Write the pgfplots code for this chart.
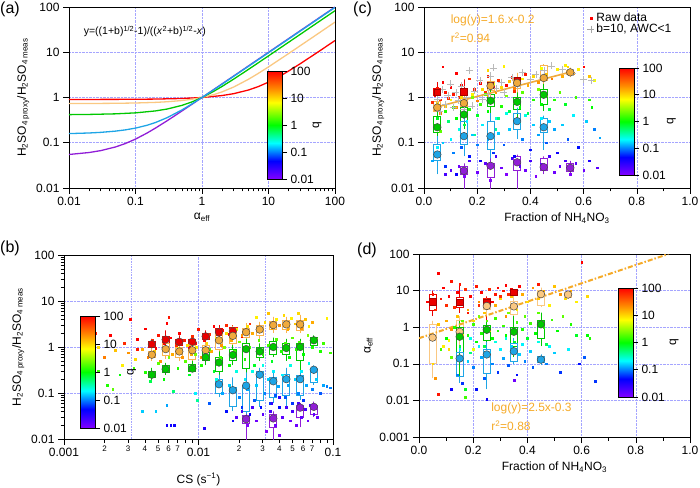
\documentclass[border=0pt]{standalone}
\usepackage{fontspec}
\setmainfont{Liberation Sans}
\usepackage{pgfplots}
\pgfplotsset{compat=1.18}
\usepackage{pgfplotstable}

\definecolor{cRed}{RGB}{235,0,0}
\definecolor{cOrg}{RGB}{240,170,60}
\definecolor{cOrgBox}{RGB}{250,180,80}
\definecolor{cPeach}{RGB}{250,200,130}
\definecolor{cGrn}{RGB}{0,200,0}
\definecolor{cBlu}{RGB}{30,165,230}
\definecolor{cPur}{RGB}{145,30,215}
\definecolor{cGrid}{RGB}{165,165,255}
\definecolor{cTxt}{RGB}{245,170,40}
\definecolor{cEdge}{RGB}{70,70,70}

\newcommand\tf{\fontsize{12}{14}\selectfont}
% box: x, xleft, xright, whisker-low, q1, q3, whisker-high
\newcommand\bx[7]{(#1,#4)(#1,#5)(#2,#5)(#2,#6)(#1,#6)(#1,#7)(#1,#6)(#3,#6)(#3,#5)(#1,#5)(#1,nan)}

\pgfplotsset{
  colormap={igor}{rgb255(0cm)=(130,0,255) rgb255(2cm)=(0,0,255) rgb255(4cm)=(0,255,255) rgb255(6cm)=(0,255,0) rgb255(8.5cm)=(255,255,0) rgb255(10cm)=(255,140,0) rgb255(12cm)=(255,0,0)},
  igor/.style={
    scale only axis,
    tick pos=left, tick align=outside,
    major tick length=6pt, minor tick length=3.5pt,
    tick style={black, line width=0.6pt},
    axis line style={line width=0.8pt},
    grid=major, major grid style={cGrid, densely dotted, line width=0.6pt},
    tick label style={font=\tf},
    label style={font=\tf},
    /pgf/number format/assume math mode=true,
    unbounded coords=jump,
    colormap name=igor,
    point meta min=-2, point meta max=2,
  },
  cb/.style={
    scale only axis, width=15pt, anchor=south west,
    xmin=0, xmax=1, ymin=-2, ymax=2,
    xtick=\empty, ytick={-2,-1,0,1,2}, yticklabels={0.01,0.1,1,10,100},
    ytick pos=right, yticklabel pos=right,
    tick align=outside, major tick length=5pt,
    tick style={black, line width=0.6pt},
    axis line style={line width=0.8pt},
    tick label style={font=\tf},
    /pgf/number format/assume math mode=true,
    colormap name=igor, point meta min=-2, point meta max=2,
    axis on top, clip=false,
  },
  raw/.style={scatter, only marks, mark=square*, mark size=0.85pt,
    scatter/use mapped color={draw=mapped color, fill=mapped color}, point meta=explicit},
  boxs/.style={no marks, line width=0.8pt},
  med/.style={only marks, mark=*, mark size=3.8pt, mark options={fill=#1, draw=cEdge, line width=0.5pt}},
  meds/.style={only marks, mark=square*, mark size=3.2pt, mark options={fill=#1, draw=#1!70!black, line width=0.5pt}},
}

% ---------------- raw data (c) ----------------
\pgfplotstableread{
x y c
0.04 1.1 2
0.05 1.6 1.9
0.06 0.9 1.8
0.07 2.2 2
0.08 1.3 1.9
0.09 0.95 1.8
0.10 1.7 2
0.11 1.2 1.9
0.12 3.5 2
0.13 1.0 1.8
0.14 1.9 2
0.16 1.4 1.9
0.17 2.6 1.8
0.18 1.1 2
0.19 1.5 1.9
0.21 2.1 2
0.23 1.3 1.8
0.24 3.0 1.9
0.26 1.7 2
0.28 2.4 1.8
0.31 1.9 2
0.33 2.8 1.9
0.34 1.4 1.8
0.36 2.2 2
0.38 3.3 1.9
0.07 4.8 2
0.60 4.8 2
0.03 0.8 1.8
0.04 0.55 1.2
0.05 0.75 1.0
0.06 0.45 1.4
0.08 0.65 1.1
0.10 0.9 0.9
0.12 0.6 1.3
0.14 1.0 1.0
0.16 0.7 1.2
0.18 1.2 0.9
0.20 0.85 1.4
0.22 1.5 1.0
0.24 1.1 1.2
0.26 2.0 0.8
0.27 1.3 1.3
0.29 1.7 1.0
0.30 5.0 0.9
0.32 2.3 1.1
0.34 1.6 1.4
0.37 2.6 0.9
0.39 1.9 1.2
0.41 3.0 1.0
0.43 2.2 1.3
0.44 4.5 0.8
0.46 3.3 1.1
0.48 2.6 1.4
0.50 4.2 0.9
0.52 3.0 1.2
0.54 4.8 1.0
0.56 3.5 1.3
0.58 4.2 0.9
0.62 3.0 1.1
0.64 2.4 0.8
0.24 4.0 1.0
0.53 5.2 0.9
0.04 0.25 0.2
0.05 0.35 -0.1
0.06 0.18 0.3
0.08 0.5 0.1
0.09 0.3 -0.3
0.11 0.6 0.2
0.12 0.35 0
0.14 0.8 0.3
0.15 0.25 -0.2
0.17 0.55 0.1
0.18 1.0 0.4
0.20 0.4 -0.1
0.21 0.7 0.2
0.23 1.2 0.3
0.24 0.5 0
0.26 0.9 0.2
0.28 0.35 -0.3
0.29 0.65 0.1
0.31 1.1 0.4
0.32 0.5 -0.2
0.34 0.8 0.2
0.36 0.6 0
0.37 1.3 0.3
0.39 0.45 -0.2
0.41 0.9 0.1
0.43 1.5 0.4
0.44 0.7 0
0.46 1.1 0.2
0.47 0.55 -0.2
0.49 0.9 0.1
0.51 1.3 0.3
0.53 0.7 -0.1
0.57 1.0 0.2
0.62 0.9 0.1
0.63 0.6 0
0.27 0.2 -0.4
0.19 0.15 -0.4
0.03 0.04 -0.9
0.05 0.08 -0.7
0.07 0.1 -0.8
0.08 0.03 -1.2
0.10 0.12 -0.7
0.11 0.06 -1.0
0.12 0.02 -1.4
0.13 0.2 -0.6
0.14 0.08 -1.1
0.16 0.3 -0.7
0.17 0.05 -1.3
0.18 0.15 -0.8
0.20 0.09 -1.0
0.21 0.04 -1.4
0.22 0.25 -0.7
0.24 0.12 -0.9
0.26 0.06 -1.2
0.27 0.35 -0.6
0.28 0.16 -0.8
0.30 0.09 -1.1
0.31 0.45 -0.6
0.32 0.2 -0.8
0.34 0.05 -1.4
0.36 0.28 -0.7
0.37 0.12 -1.0
0.38 0.4 -0.6
0.40 0.07 -1.3
0.41 0.25 -0.8
0.43 0.15 -0.9
0.44 0.35 -0.7
0.46 0.1 -1.1
0.47 0.3 -0.8
0.49 0.2 -0.9
0.50 0.06 -1.4
0.52 0.25 -0.8
0.54 0.12 -1.1
0.56 0.4 -0.7
0.58 0.08 -1.3
0.61 0.3 -0.8
0.64 0.2 -1.0
0.66 0.13 -0.9
0.62 0.04 -1.5
0.08 0.02 -1.7
0.10 0.025 -1.8
0.13 0.03 -1.9
0.15 0.018 -2
0.17 0.04 -1.7
0.20 0.022 -1.9
0.23 0.035 -1.8
0.25 0.015 -2
0.27 0.05 -1.7
0.29 0.028 -1.9
0.31 0.02 -2
0.33 0.045 -1.7
0.36 0.03 -1.8
0.38 0.025 -1.9
0.40 0.04 -1.7
0.42 0.018 -2
0.44 0.033 -1.8
0.47 0.05 -1.7
0.49 0.022 -1.9
0.51 0.03 -1.8
0.53 0.04 -1.7
0.55 0.02 -2
0.57 0.035 -1.8
0.60 0.025 -1.9
0.65 0.028 -1.8
}\rawc

\pgfplotstableread{
x y
0.05 0.9
0.07 1.5
0.08 0.7
0.09 1.1
0.10 2.0
0.11 0.6
0.12 1.3
0.13 0.85
0.14 1.8
0.16 1.0
0.17 4.0
0.18 0.65
0.19 1.4
0.21 2.4
0.22 0.9
0.24 1.2
0.25 3.0
0.26 4.5
0.27 1.6
0.29 2.2
0.30 1.3
0.33 2.8
0.35 1.8
0.37 3.6
0.40 2.5
0.42 3.2
0.45 4.0
0.48 5.0
0.52 4.2
0.56 3.5
0.60 2.5
0.63 2.4
0.06 0.5
0.15 0.55
}\plusc

% ---------------- raw data (d) ----------------
\pgfplotstableread{
x y c
0.03 5 2
0.05 8 1.9
0.06 3 1.8
0.07 30 2
0.08 6 1.9
0.09 12 2
0.10 4 1.8
0.11 7 2
0.12 18 1.9
0.13 3.5 1.8
0.14 9 2
0.15 15 1.9
0.16 5 2
0.17 11 1.8
0.18 2.5 1.9
0.19 7 2
0.21 13 1.9
0.22 4 1.8
0.23 9 2
0.24 6 1.9
0.26 11 1.8
0.27 5 2
0.28 8 1.9
0.29 12 2
0.30 7 1.8
0.31 10 1.9
0.32 14 2
0.33 8 1.8
0.34 11 2
0.36 9 1.9
0.37 13 2
0.44 15 1.9
0.60 60 2
0.07 0.015 1.9
0.04 0.5 1.2
0.05 0.1 1.0
0.06 0.04 1.3
0.07 1.2 1.1
0.09 0.3 0.9
0.10 1.5 1.2
0.11 0.25 1.0
0.12 0.9 1.3
0.14 2.0 1.1
0.16 0.6 0.9
0.18 3.0 1.2
0.20 1.5 1.0
0.22 5.0 1.3
0.24 2.5 1.1
0.26 0.8 0.9
0.28 4.0 1.2
0.30 6.0 1.0
0.32 2.0 1.3
0.34 7.0 1.1
0.36 3.0 0.9
0.38 8.0 1.2
0.40 5.0 1.0
0.42 12 1.3
0.44 6.0 1.1
0.46 10 1.2
0.48 4.0 0.9
0.50 13 1.1
0.52 8 1.3
0.54 6 1.0
0.56 10 1.2
0.58 5 0.9
0.62 7 1.0
0.20 0.25 0.8
0.11 0.45 0.8
0.08 0.25 0.2
0.10 0.5 0
0.12 0.15 0.3
0.13 1.0 0.1
0.15 0.3 -0.2
0.16 1.5 0.3
0.17 0.012 0.2
0.18 0.6 0.1
0.19 0.2 -0.3
0.20 1.2 0.2
0.21 0.4 0
0.22 2.0 0.4
0.23 0.7 0.1
0.24 0.3 -0.2
0.25 1.5 0.3
0.27 0.5 0
0.28 1.8 0.2
0.29 0.8 0.1
0.30 0.25 -0.3
0.31 1.1 0.2
0.32 0.6 0
0.33 2.5 0.4
0.35 0.4 -0.1
0.36 1.4 0.2
0.38 0.9 0.1
0.39 2.0 0.3
0.40 0.5 -0.1
0.41 1.3 0.2
0.43 0.7 0
0.44 2.5 0.3
0.46 1.0 0.1
0.47 0.35 -0.2
0.49 1.6 0.2
0.51 0.8 0
0.53 2.0 0.3
0.56 1.2 0.1
0.58 0.6 -0.1
0.62 0.6 0
0.63 0.5 0.1
0.17 0.02 -0.1
0.12 0.02 -1.4
0.14 0.05 -1.0
0.15 0.25 -0.7
0.16 0.03 -1.2
0.18 0.12 -0.8
0.19 0.5 -0.6
0.20 0.08 -1.0
0.21 0.02 -1.3
0.22 0.3 -0.7
0.23 0.15 -0.9
0.24 0.04 -1.1
0.25 0.011 -1.4
0.26 0.2 -0.8
0.27 0.1 -1.0
0.28 0.4 -0.6
0.29 0.06 -1.2
0.30 0.25 -0.7
0.31 0.14 -0.9
0.32 0.5 -0.6
0.33 0.09 -1.1
0.34 0.3 -0.8
0.36 0.05 -1.3
0.37 0.18 -0.8
0.38 0.35 -0.7
0.39 0.12 -1.0
0.41 0.22 -0.8
0.42 0.08 -1.1
0.44 0.4 -0.6
0.45 0.15 -0.9
0.47 0.1 -1.0
0.48 0.3 -0.7
0.50 0.2 -0.8
0.52 0.06 -1.2
0.55 0.25 -0.7
0.59 0.1 -1.3
0.61 0.15 -1.1
0.65 0.033 -1.2
0.35 0.035 -1.9
}\rawd

% ---------------- raw data (b) ----------------
\pgfplotstableread{
x y c
0.0017 2 1.9
0.0022 1.8 2
0.0028 1.2 1.8
0.0031 4 2
0.0035 0.9 1.9
0.004 2.5 2
0.0045 1.4 1.8
0.0048 0.95 2
0.005 1.8 1.9
0.0055 1.2 2
0.006 4.5 1.9
0.0062 1.6 2
0.0068 1.1 1.8
0.0072 2.0 2
0.0078 1.4 1.9
0.0085 1.0 2
0.009 1.7 1.8
0.0095 1.2 2
0.010 2.4 1.9
0.011 1.4 2
0.012 1.9 1.8
0.013 2.8 2
0.014 1.6 1.9
0.015 2.3 2
0.016 3.0 1.8
0.017 1.9 2
0.019 2.6 1.9
0.021 1.7 2
0.024 3.2 1.8
0.0058 3.3 2
0.0035 1.5 2
0.0016 0.7 1.2
0.0018 1.0 1.0
0.002 0.6 1.4
0.0024 0.85 1.1
0.0027 0.4 0.9
0.003 0.75 1.3
0.0034 0.55 1.0
0.0038 0.9 1.2
0.0042 0.6 1.4
0.0047 0.8 1.1
0.0052 0.5 1.3
0.0058 1.0 1.0
0.0064 0.7 1.2
0.007 0.95 0.9
0.0076 0.6 1.3
0.0082 1.1 1.0
0.0088 0.7 1.2
0.0096 1.0 0.9
0.0105 0.6 1.3
0.0115 1.2 1.0
0.0125 0.8 1.2
0.0135 1.6 0.9
0.0148 1.1 1.3
0.016 2.0 1.0
0.0175 1.4 1.2
0.019 2.4 0.9
0.021 1.8 1.3
0.023 2.8 1.0
0.025 2.0 1.2
0.027 4.5 0.9
0.029 2.6 1.3
0.031 3.5 1.0
0.033 5.5 1.1
0.035 2.5 1.2
0.038 4.0 0.9
0.040 3.0 1.3
0.043 5.0 1.0
0.046 2.4 1.2
0.049 4.2 0.9
0.052 3.2 1.1
0.055 5.5 1.0
0.058 2.6 1.3
0.062 4.0 1.1
0.066 2.8 0.9
0.07 3.5 1.2
0.09 4.2 0.9
0.0018 0.3 0.2
0.0021 0.15 0.1
0.0023 0.12 0.3
0.0026 0.25 0
0.0033 0.35 0.2
0.004 0.28 0.1
0.0044 0.18 -0.2
0.005 0.45 0.3
0.0055 0.2 0
0.006 0.6 0.4
0.0065 0.11 -0.3
0.007 0.35 0.1
0.008 0.5 0.3
0.0085 0.25 -0.1
0.0095 0.7 0.4
0.0098 0.07 -0.4
0.0105 0.4 0.1
0.012 0.9 0.3
0.013 0.3 -0.1
0.0145 0.6 0.2
0.0155 1.0 0.4
0.017 0.4 0
0.0185 0.8 0.2
0.02 1.3 0.4
0.022 0.55 0.1
0.024 1.0 0.2
0.026 0.4 -0.1
0.028 1.4 0.3
0.030 0.7 0.1
0.033 1.1 0.2
0.035 0.5 -0.1
0.038 1.5 0.3
0.041 0.8 0.1
0.044 1.2 0.2
0.047 0.6 0
0.05 1.6 0.3
0.053 0.9 0.1
0.056 1.3 0.2
0.06 0.7 0
0.065 1.8 0.4
0.07 1.0 0.1
0.075 1.5 0.3
0.08 0.8 0.1
0.085 1.2 0.2
0.095 0.75 0.2
0.0038 0.04 -0.8
0.0048 0.04 -0.8
0.0058 0.02 -1.4
0.0062 0.02 -1.4
0.0066 0.02 -1.4
0.0058 0.055 -0.9
0.0095 0.1 -0.7
0.011 0.017 -1.5
0.012 0.06 -1.1
0.0135 0.2 -0.6
0.015 0.1 -0.9
0.016 0.04 -1.3
0.017 0.15 -0.8
0.018 0.025 -1.4
0.019 0.3 -0.6
0.02 0.08 -1.0
0.021 0.05 -1.2
0.022 0.2 -0.7
0.023 0.12 -0.9
0.024 0.035 -1.4
0.025 0.3 -0.6
0.026 0.07 -1.1
0.027 0.15 -0.8
0.029 0.05 -1.3
0.030 0.4 -0.6
0.031 0.1 -1.0
0.033 0.2 -0.8
0.034 0.06 -1.2
0.036 0.3 -0.7
0.037 0.09 -1.1
0.039 0.14 -0.9
0.040 0.05 -1.3
0.042 0.25 -0.7
0.044 0.08 -1.1
0.046 0.15 -0.9
0.048 0.4 -0.6
0.05 0.06 -1.2
0.052 0.2 -0.8
0.055 0.1 -1.0
0.058 0.3 -0.7
0.06 0.07 -1.2
0.063 0.15 -0.9
0.066 0.45 -0.6
0.07 0.12 -1.0
0.075 0.2 -0.8
0.08 0.1 -1.1
0.085 0.15 -0.9
0.09 0.14 -1.0
0.095 0.13 -1.0
0.019 0.03 -1.8
0.021 0.04 -1.7
0.023 0.02 -2
0.025 0.05 -1.7
0.027 0.025 -1.9
0.03 0.035 -1.8
0.032 0.015 -2
0.034 0.04 -1.7
0.037 0.02 -1.9
0.04 0.012 -2
0.042 0.03 -1.8
0.045 0.05 -1.7
0.048 0.025 -1.9
0.05 0.04 -1.7
0.053 0.02 -1.9
0.055 0.06 -1.7
0.058 0.03 -1.8
0.062 0.045 -1.7
0.065 0.025 -1.9
0.068 0.055 -1.7
0.072 0.035 -1.8
0.076 0.03 -1.9
0.04 0.08 -1.6
0.035 0.06 -1.6
}\rawb

\begin{document}
\begin{tikzpicture}
\useasboundingbox (0pt,0pt) rectangle (700pt,-487pt);

\node[anchor=north west, inner sep=0pt, font=\fontsize{16}{16}\selectfont] at (0pt,-2pt) {(a)};
\node[anchor=north west, inner sep=0pt, font=\fontsize{16}{16}\selectfont] at (0pt,-241pt) {(b)};
\node[anchor=north west, inner sep=0pt, font=\fontsize{16}{16}\selectfont] at (353pt,-2pt) {(c)};
\node[anchor=north west, inner sep=0pt, font=\fontsize{16}{16}\selectfont] at (357pt,-243pt) {(d)};

% ======================= (a) =======================
\begin{axis}[igor, at={(69pt,-188pt)}, anchor=south west, width=266pt, height=181pt,
  xmode=log, ymode=log, xmin=0.01, xmax=100, ymin=0.01, ymax=100,
  xtick={0.01,0.1,1,10,100}, xticklabels={0.01,0.1,1,10,100},
  ytick={0.01,0.1,1,10,100}, yticklabels={0.01,0.1,1,10,100},
  yminorticks=false,
  xlabel={α\textsubscript{eff}},
  ylabel={H\textsubscript{2}SO\textsubscript{4 proxy}/H\textsubscript{2}SO\textsubscript{4 meas}}]
\addplot[red, line width=1.3pt] coordinates {(0.01,0.9059)(0.02,0.9068)(0.05,0.9095)(0.1,0.9141)(0.2,0.9233)(0.5,0.9514)(1,1)(2,1.1039)(3,1.2163)(5,1.4643)(7,1.7382)(10,2.1848)(15,2.9890)(20,3.8336)(30,5.5768)(50,9.1395)(70,12.734)(100,18.145)};
\addplot[cPeach, line width=1.3pt] coordinates {(0.01,0.7349)(0.02,0.7372)(0.05,0.7443)(0.1,0.7561)(0.2,0.7804)(0.3,0.8054)(0.5,0.8575)(0.7,0.9125)(1,1)(1.5,1.1583)(2,1.3301)(3,1.7048)(5,2.5289)(7,3.4011)(10,4.7463)(20,9.3241)(50,23.189)(100,46.344)};
\addplot[cGrn, line width=1.3pt] coordinates {(0.01,0.4184)(0.02,0.4226)(0.05,0.4354)(0.1,0.4577)(0.2,0.5053)(0.3,0.5567)(0.5,0.6702)(0.7,0.7956)(1,1)(1.5,1.3681)(2,1.7546)(3,2.5525)(5,4.1832)(10,8.3049)(20,16.579)(50,41.425)(100,82.845)};
\addplot[cPur, line width=1.3pt] coordinates {(0.01,0.0551)(0.02,0.0608)(0.03,0.0670)(0.05,0.0807)(0.07,0.0958)(0.1,0.1204)(0.15,0.1647)(0.2,0.2113)(0.3,0.3074)(0.5,0.5037)(0.7,0.7018)(1,1)(2,1.9966)(5,4.988)(10,9.975)(20,19.95)(50,49.88)(100,99.75)};
\addplot[cBlu, line width=1.3pt] coordinates {(0.01,0.1593)(0.02,0.1644)(0.03,0.1697)(0.05,0.1807)(0.07,0.1923)(0.1,0.2107)(0.15,0.2440)(0.2,0.2802)(0.3,0.3592)(0.5,0.5328)(0.7,0.7166)(1,1)(2,1.9645)(5,4.886)(10,9.764)(20,19.53)(50,48.81)(100,97.62)};
\node[anchor=west, inner sep=0pt, font=\fontsize{10.5}{12}\selectfont] at (rel axis cs:0.055,0.865) {y=((1+b)\textsuperscript{1/2}-1)/((\textit{x}\textsuperscript{2}+b)\textsuperscript{1/2}-\textit{x})};
\end{axis}
\begin{axis}[cb, at={(267pt,-179pt)}, height=108pt]
\addplot[surf, shader=interp, mesh/cols=2, point meta=y] coordinates {(0,-2) (1,-2) (0,2) (1,2)};
\node[rotate=90, font=\tf] at (rel axis cs:3.35,0.5) {q};
\end{axis}

% ======================= (c) =======================
\begin{axis}[igor, at={(424pt,-188pt)}, anchor=south west, width=266pt, height=181pt,
  ymode=log, xmin=0, xmax=1, ymin=0.01, ymax=100,
  xtick={0,0.2,0.4,0.6,0.8,1}, xticklabels={0.0,0.2,0.4,0.6,0.8,1.0},
  minor x tick num=1,
  ytick={0.01,0.1,1,10,100}, yticklabels={0.01,0.1,1,10,100},
  yminorticks=false,
  xlabel={Fraction of NH\textsubscript{4}NO\textsubscript{3}},
  ylabel={H\textsubscript{2}SO\textsubscript{4 proxy}/H\textsubscript{2}SO\textsubscript{4 meas}},
  legend style={draw=none, fill=none, at={(0.61,0.985)}, anchor=north west, font=\tf, row sep=-3pt, inner sep=1pt},
  legend cell align=left]
\addlegendimage{only marks, mark=square*, mark size=0.85pt, red}
\addlegendentry{Raw data}
\addlegendimage{only marks, mark=+, mark size=3.5pt, gray!70}
\addlegendentry{b=10, AWC<1}
\addplot[raw] table[x=x, y=y, meta=c] {\rawc};
\addplot[only marks, mark=+, mark size=3.5pt, gray!55] table[x=x, y=y] {\plusc};
\edef\tmp{\noexpand\addplot[boxs, cRed] coordinates {
\bx{0.05}{0.037}{0.063}{0.9}{1.1}{1.6}{2.2}
\bx{0.15}{0.137}{0.163}{0.9}{1.1}{1.6}{2.5}
\bx{0.25}{0.237}{0.263}{1.2}{1.6}{2.1}{2.6}
\bx{0.35}{0.337}{0.363}{1.8}{2.1}{2.8}{3.3}};}\tmp
\edef\tmp{\noexpand\addplot[boxs, cOrgBox] coordinates {
\bx{0.05}{0.037}{0.063}{0.35}{0.5}{0.8}{1.0}
\bx{0.15}{0.137}{0.163}{0.5}{0.65}{0.95}{1.3}
\bx{0.25}{0.237}{0.263}{1.0}{1.4}{2.3}{3.0}
\bx{0.35}{0.337}{0.363}{1.2}{1.6}{2.6}{3.5}
\bx{0.45}{0.437}{0.463}{1.8}{2.4}{5.0}{5.5}
\bx{0.55}{0.537}{0.563}{2.8}{3.2}{4.0}{4.6}};}\tmp
\edef\tmp{\noexpand\addplot[boxs, cGrn] coordinates {
\bx{0.05}{0.037}{0.063}{0.12}{0.17}{0.38}{0.6}
\bx{0.15}{0.137}{0.163}{0.2}{0.3}{0.6}{0.9}
\bx{0.25}{0.237}{0.263}{0.4}{0.65}{1.2}{1.5}
\bx{0.35}{0.337}{0.363}{0.35}{0.55}{1.0}{1.3}
\bx{0.45}{0.437}{0.463}{0.5}{0.7}{1.5}{2.0}};}\tmp
\edef\tmp{\noexpand\addplot[boxs, cBlu] coordinates {
\bx{0.05}{0.037}{0.063}{0.02}{0.04}{0.09}{0.14}
\bx{0.15}{0.137}{0.163}{0.05}{0.09}{0.3}{0.45}
\bx{0.25}{0.237}{0.263}{0.03}{0.07}{0.3}{0.45}
\bx{0.35}{0.337}{0.363}{0.12}{0.2}{0.45}{0.6}
\bx{0.45}{0.437}{0.463}{0.07}{0.17}{0.35}{0.4}};}\tmp
\edef\tmp{\noexpand\addplot[boxs, cPur] coordinates {
\bx{0.15}{0.137}{0.163}{0.008}{0.02}{0.03}{0.035}
\bx{0.25}{0.237}{0.263}{0.008}{0.017}{0.035}{0.045}
\bx{0.35}{0.337}{0.363}{0.008}{0.025}{0.05}{0.055}
\bx{0.45}{0.437}{0.463}{0.02}{0.024}{0.045}{0.05}
\bx{0.55}{0.537}{0.563}{0.02}{0.023}{0.035}{0.04}};}\tmp
\addplot[color=cOrg, line width=1.6pt, no marks] coordinates {(0.05,0.62)(0.55,3.65)};
\addplot[meds=cRed] coordinates {(0.05,1.3)(0.15,1.35)(0.25,1.85)(0.35,2.4)};
\addplot[med=cOrg] coordinates {(0.05,0.6)(0.15,0.75)(0.25,1.8)(0.35,2.1)(0.45,2.7)(0.55,3.6)};
\addplot[med=cGrn] coordinates {(0.05,0.22)(0.15,0.42)(0.25,0.85)(0.35,0.8)(0.45,1.15)};
\addplot[med=cBlu] coordinates {(0.05,0.055)(0.15,0.14)(0.25,0.14)(0.35,0.3)(0.45,0.22)};
\addplot[med=cPur] coordinates {(0.15,0.024)(0.25,0.031)(0.35,0.037)(0.45,0.029)(0.55,0.028)};
\node[anchor=west, inner sep=0pt, text=cTxt, font=\tf] at (rel axis cs:0.1,0.928) {log(y)=1.6.x-0.2};
\node[anchor=west, inner sep=0pt, text=cTxt, font=\tf] at (rel axis cs:0.1,0.829) {r\textsuperscript{2}=0.94};
\end{axis}
\begin{axis}[cb, at={(619pt,-175pt)}, height=107pt]
\addplot[surf, shader=interp, mesh/cols=2, point meta=y] coordinates {(0,-2) (1,-2) (0,2) (1,2)};
\node[rotate=90, font=\tf] at (rel axis cs:3.5,0.5) {q};
\end{axis}

% ======================= (b) =======================
\begin{axis}[igor, at={(64pt,-439pt)}, anchor=south west, width=269pt, height=184pt,
  xmode=log, ymode=log, xmin=0.001, xmax=0.1, ymin=0.01, ymax=100,
  xtick={0.001,0.01,0.1}, xticklabels={0.001,0.01,0.1},
  ytick={0.01,0.1,1,10,100}, yticklabels={0.01,0.1,1,10,100},
  extra x ticks={0.002,0.003,0.004,0.005,0.006,0.007,0.02,0.03,0.04,0.05,0.06,0.07},
  extra x tick labels={2,3,4,5,6,7,2,3,4,5,6,7},
  extra x tick style={grid=none, major tick length=3.5pt, tick label style={font=\fontsize{8}{8}\selectfont}},
  xlabel={CS (s\textsuperscript{−1})},
  ylabel={H\textsubscript{2}SO\textsubscript{4 proxy}/H\textsubscript{2}SO\textsubscript{4 meas}}]
\addplot[cGrid, densely dotted, line width=0.6pt, no marks] coordinates {(0.00316,0.01)(0.00316,100)(0.00316,nan)(0.0316,0.01)(0.0316,100)};
\addplot[raw] table[x=x, y=y, meta=c] {\rawb};
\edef\tmp{\noexpand\addplot[boxs, cRed] coordinates {
\bx{0.0045}{0.00423}{0.00477}{0.95}{1.0}{1.3}{1.5}
\bx{0.0057}{0.00536}{0.00604}{1.0}{1.2}{1.7}{2.3}
\bx{0.0072}{0.00677}{0.00763}{0.95}{1.1}{1.5}{1.8}
\bx{0.009}{0.00846}{0.00954}{1.0}{1.1}{1.5}{1.8}
\bx{0.0113}{0.01062}{0.01198}{1.3}{1.5}{2.0}{2.3}
\bx{0.0142}{0.01335}{0.01505}{1.6}{1.8}{2.5}{3.0}
\bx{0.018}{0.01692}{0.01908}{1.6}{1.8}{2.7}{3.0}};}\tmp
\edef\tmp{\noexpand\addplot[boxs, cOrgBox] coordinates {
\bx{0.0045}{0.00423}{0.00477}{0.5}{0.6}{0.8}{1.0}
\bx{0.0057}{0.00536}{0.00604}{0.55}{0.65}{1.2}{1.4}
\bx{0.0072}{0.00677}{0.00763}{0.5}{0.6}{1.0}{1.3}
\bx{0.009}{0.00846}{0.00954}{0.5}{0.55}{1.1}{1.4}
\bx{0.0113}{0.01062}{0.01198}{0.5}{0.6}{1.1}{1.4}
\bx{0.0142}{0.01335}{0.01505}{0.7}{0.9}{2.0}{2.6}
\bx{0.018}{0.01692}{0.01908}{0.9}{1.2}{2.4}{2.9}
\bx{0.0226}{0.02124}{0.02396}{1.3}{1.6}{2.6}{3.3}
\bx{0.0285}{0.02679}{0.03021}{1.5}{1.8}{3.0}{3.5}
\bx{0.036}{0.03384}{0.03816}{2.0}{2.4}{3.6}{4.5}
\bx{0.045}{0.0423}{0.0477}{2.0}{2.4}{3.8}{4.5}
\bx{0.057}{0.05358}{0.06042}{2.0}{2.3}{3.7}{5.0}};}\tmp
\edef\tmp{\noexpand\addplot[boxs, cGrn] coordinates {
\bx{0.0045}{0.00423}{0.00477}{0.18}{0.22}{0.3}{0.35}
\bx{0.0057}{0.00536}{0.00604}{0.25}{0.28}{0.4}{0.45}
\bx{0.009}{0.00846}{0.00954}{0.28}{0.3}{0.42}{0.5}
\bx{0.0113}{0.01062}{0.01198}{0.4}{0.5}{0.75}{0.9}
\bx{0.0142}{0.01335}{0.01505}{0.2}{0.3}{0.6}{0.8}
\bx{0.018}{0.01692}{0.01908}{0.4}{0.5}{0.9}{1.1}
\bx{0.0226}{0.02124}{0.02396}{0.2}{0.35}{1.2}{1.5}
\bx{0.0285}{0.02679}{0.03021}{0.5}{0.6}{1.0}{1.2}
\bx{0.036}{0.03384}{0.03816}{0.6}{0.7}{1.3}{1.6}
\bx{0.045}{0.0423}{0.0477}{0.5}{0.7}{1.2}{1.5}
\bx{0.057}{0.05358}{0.06042}{0.3}{0.5}{1.2}{1.5}
\bx{0.072}{0.06768}{0.07632}{1.0}{1.1}{1.6}{1.8}};}\tmp
\edef\tmp{\noexpand\addplot[boxs, cBlu] coordinates {
\bx{0.0142}{0.01335}{0.01505}{0.08}{0.1}{0.2}{0.25}
\bx{0.018}{0.01692}{0.01908}{0.04}{0.05}{0.13}{0.22}
\bx{0.0226}{0.02124}{0.02396}{0.03}{0.04}{0.15}{0.28}
\bx{0.0285}{0.02679}{0.03021}{0.05}{0.07}{0.3}{0.35}
\bx{0.036}{0.03384}{0.03816}{0.06}{0.08}{0.22}{0.3}
\bx{0.045}{0.0423}{0.0477}{0.05}{0.09}{0.25}{0.35}
\bx{0.057}{0.05358}{0.06042}{0.07}{0.09}{0.24}{0.3}
\bx{0.072}{0.06768}{0.07632}{0.15}{0.17}{0.35}{0.4}};}\tmp
\edef\tmp{\noexpand\addplot[boxs, cPur] coordinates {
\bx{0.0226}{0.02124}{0.02396}{0.008}{0.022}{0.032}{0.035}
\bx{0.036}{0.03384}{0.03816}{0.009}{0.018}{0.035}{0.04}
\bx{0.057}{0.05358}{0.06042}{0.018}{0.03}{0.055}{0.06}
\bx{0.072}{0.06768}{0.07632}{0.03}{0.035}{0.055}{0.065}};}\tmp
\addplot[med=cRed] coordinates {(0.0045,1.15)(0.0057,1.45)(0.0072,1.3)(0.009,1.3)(0.0113,1.7)(0.0142,2.1)(0.018,2.2)};
\addplot[med=cOrg] coordinates {(0.0045,0.68)(0.0057,0.9)(0.0072,0.8)(0.009,0.85)(0.0113,0.85)(0.0142,1.4)(0.018,1.75)(0.0226,2.1)(0.0285,2.4)(0.036,3.0)(0.045,3.1)(0.057,3.1)};
\addplot[med=cGrn] coordinates {(0.0045,0.25)(0.0057,0.33)(0.009,0.34)(0.0113,0.6)(0.0142,0.46)(0.018,0.67)(0.0226,0.9)(0.0285,0.8)(0.036,1.0)(0.045,0.95)(0.057,1.0)(0.072,1.4)};
\addplot[med=cBlu] coordinates {(0.0142,0.155)(0.018,0.115)(0.0226,0.145)(0.0285,0.25)(0.036,0.18)(0.045,0.2)(0.057,0.2)(0.072,0.32)};
\addplot[med=cPur] coordinates {(0.0226,0.027)(0.036,0.028)(0.057,0.048)(0.072,0.05)};
\end{axis}
\begin{axis}[cb, at={(80pt,-428pt)}, height=112pt]
\addplot[surf, shader=interp, mesh/cols=2, point meta=y] coordinates {(0,-2) (1,-2) (0,2) (1,2)};
\node[rotate=90, font=\tf] at (rel axis cs:3.45,0.5) {q};
\end{axis}

% ======================= (d) =======================
\begin{axis}[igor, at={(419pt,-437pt)}, anchor=south west, width=271pt, height=183pt,
  ymode=log, xmin=0, xmax=1, ymin=0.001, ymax=100,
  xtick={0,0.2,0.4,0.6,0.8,1}, xticklabels={0.0,0.2,0.4,0.6,0.8,1.0},
  minor x tick num=1,
  ytick={0.001,0.01,0.1,1,10,100}, yticklabels={0.001,0.01,0.1,1,10,100},
  yminorticks=false,
  xlabel={Fraction of NH\textsubscript{4}NO\textsubscript{3}},
  ylabel={α\textsubscript{eff}}]
\addplot[raw] table[x=x, y=y, meta=c] {\rawd};
\edef\tmp{\noexpand\addplot[boxs, cRed] coordinates {
\bx{0.05}{0.037}{0.063}{2.0}{2.8}{8}{10}
\bx{0.15}{0.137}{0.163}{2.5}{3.5}{6.5}{15}
\bx{0.25}{0.237}{0.263}{1.0}{4.0}{6.0}{7.0}
\bx{0.35}{0.337}{0.363}{7.5}{8}{10}{11}};}\tmp
\edef\tmp{\noexpand\addplot[boxs, cPeach] coordinates {
\bx{0.05}{0.037}{0.063}{0.04}{0.1}{1.2}{1.5}
\bx{0.15}{0.137}{0.163}{0.3}{0.5}{1.5}{2.0}
\bx{0.25}{0.237}{0.263}{2}{3}{5}{6}
\bx{0.35}{0.337}{0.363}{1.5}{2.2}{5}{8}
\bx{0.45}{0.437}{0.463}{3.5}{4}{10}{12}
\bx{0.55}{0.537}{0.563}{6}{6.5}{9}{10}};}\tmp
\edef\tmp{\noexpand\addplot[boxs, cGrn] coordinates {
\bx{0.15}{0.137}{0.163}{0.04}{0.2}{1.0}{1.5}
\bx{0.25}{0.237}{0.263}{0.3}{0.45}{1.1}{1.5}
\bx{0.35}{0.337}{0.363}{0.15}{0.3}{1.0}{2.0}
\bx{0.45}{0.437}{0.463}{0.3}{0.5}{1.5}{2.5}};}\tmp
\edef\tmp{\noexpand\addplot[boxs, cBlu] coordinates {
\bx{0.15}{0.137}{0.163}{0.03}{0.045}{0.2}{0.3}
\bx{0.25}{0.237}{0.263}{0.02}{0.055}{0.25}{0.4}
\bx{0.35}{0.337}{0.363}{0.1}{0.12}{0.35}{0.5}
\bx{0.45}{0.437}{0.463}{0.09}{0.11}{0.16}{0.18}};}\tmp
\addplot[color=cTxt, line width=2pt, no marks, dash pattern=on 5pt off 2pt on 1.5pt off 2pt] coordinates {(0,0.5)(0.92,100)};
\addplot[meds=cRed] coordinates {(0.05,5)(0.15,4.8)(0.25,4.8)(0.35,9)};
\addplot[med=cPeach] coordinates {(0.05,0.52)(0.15,0.75)(0.25,3.8)(0.35,3.7)(0.45,8)(0.55,7.8)};
\addplot[med=cGrn] coordinates {(0.15,0.55)(0.25,0.85)(0.35,0.75)(0.45,1.2)};
\addplot[med=cBlu] coordinates {(0.15,0.14)(0.25,0.18)(0.35,0.22)(0.45,0.13)};
\node[anchor=west, inner sep=0pt, text=cTxt, font=\tf] at (rel axis cs:0.266,0.158) {log(y)=2.5x-0.3};
\node[anchor=west, inner sep=0pt, text=cTxt, font=\tf] at (rel axis cs:0.266,0.06) {r\textsuperscript{2}=0.88};
\end{axis}
\begin{axis}[cb, at={(618pt,-397pt)}, height=109pt]
\addplot[surf, shader=interp, mesh/cols=2, point meta=y] coordinates {(0,-2) (1,-2) (0,2) (1,2)};
\node[rotate=90, font=\tf] at (rel axis cs:3.75,0.5) {q};
\end{axis}
\end{tikzpicture}
\end{document}
